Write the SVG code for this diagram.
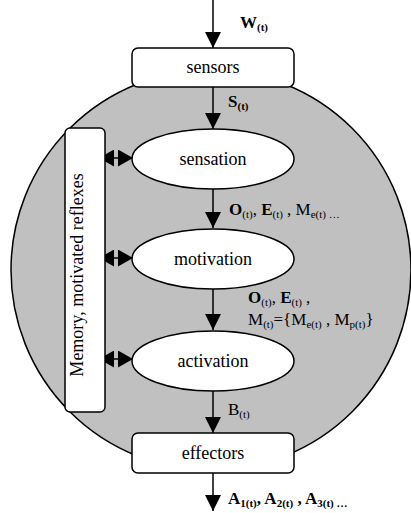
<svg xmlns="http://www.w3.org/2000/svg" width="411" height="513" viewBox="0 0 411 513">
<defs>
<style>
.ln{stroke:#000;stroke-width:1.5;fill:none}
.box{fill:#fff;stroke:#000;stroke-width:1.5}
.t{font-family:'Liberation Serif','Times New Roman',serif;font-size:18px;fill:#000;text-anchor:middle}
.lbl{font-family:'Liberation Serif','Times New Roman',serif;font-size:17px;fill:#000}
.sub{font-size:11px}
.b{font-weight:bold}
</style>
<marker id="ah" markerUnits="userSpaceOnUse" markerWidth="16" markerHeight="16" viewBox="0 0 16 16" refX="16" refY="8" orient="auto-start-reverse">
<path d="M0,0 L16,8 L0,16 z" fill="#000"/>
</marker>
<marker id="ah2" markerUnits="userSpaceOnUse" markerWidth="15" markerHeight="17" viewBox="0 0 15 17" refX="15" refY="8.5" orient="auto-start-reverse">
<path d="M0,0 L15,8.5 L0,17 z" fill="#000"/>
</marker>
</defs>
<circle id="body" cx="211" cy="270" r="200" fill="#c0c0c0" stroke="#000" stroke-width="1.5"/>
<g id="connectors">
<line class="ln" x1="213" y1="0" x2="213" y2="48" marker-end="url(#ah)"/>
<line class="ln" x1="213" y1="87" x2="213" y2="129" marker-end="url(#ah)"/>
<line class="ln" x1="213" y1="188" x2="213" y2="228" marker-end="url(#ah)"/>
<line class="ln" x1="213" y1="288" x2="213" y2="330" marker-end="url(#ah)"/>
<line class="ln" x1="213" y1="390" x2="213" y2="433" marker-end="url(#ah)"/>
<line class="ln" x1="213" y1="473" x2="213" y2="511" marker-end="url(#ah)"/>
<line class="ln" x1="99" y1="158" x2="133" y2="158" marker-start="url(#ah2)" marker-end="url(#ah2)"/>
<line class="ln" x1="99" y1="258" x2="133" y2="258" marker-start="url(#ah2)" marker-end="url(#ah2)"/>
<line class="ln" x1="99" y1="359" x2="133" y2="359" marker-start="url(#ah2)" marker-end="url(#ah2)"/>
</g>
<g id="memory">
<rect class="box" x="65" y="128" width="40" height="284" rx="5"/>
<text class="t" transform="translate(83,275) rotate(-90)">Memory, motivated reflexes</text>
</g>
<g id="sensors">
<rect class="box" x="132" y="48" width="162" height="39" rx="6"/>
<text class="t" x="213" y="73">sensors</text>
</g>
<g id="sensation">
<ellipse class="box" cx="213" cy="159" rx="81" ry="30"/>
<text class="t" x="213" y="165">sensation</text>
</g>
<g id="motivation">
<ellipse class="box" cx="213" cy="259" rx="81" ry="30"/>
<text class="t" x="213" y="265">motivation</text>
</g>
<g id="activation">
<ellipse class="box" cx="213" cy="361" rx="81" ry="30"/>
<text class="t" x="213" y="367">activation</text>
</g>
<g id="effectors">
<rect class="box" x="132" y="433" width="162" height="40" rx="6"/>
<text class="t" x="213" y="459">effectors</text>
</g>
<g id="labels">
<text class="lbl b" x="240" y="28">W<tspan class="sub" dy="3">(t)</tspan></text>
<text class="lbl b" x="228" y="107">S<tspan class="sub" dy="3">(t)</tspan></text>
<text class="lbl" x="229" y="215"><tspan class="b">O</tspan><tspan class="sub" dy="3">(t)</tspan><tspan dy="-3">, </tspan><tspan class="b">E</tspan><tspan class="sub" dy="3">(t)</tspan><tspan dy="-3"> , M</tspan><tspan class="sub" dy="3">e(t) …</tspan></text>
<text class="lbl" x="248" y="303"><tspan class="b">O</tspan><tspan class="sub" dy="3">(t)</tspan><tspan dy="-3">, </tspan><tspan class="b">E</tspan><tspan class="sub" dy="3">(t)</tspan><tspan dy="-3"> ,</tspan></text>
<text class="lbl" x="248" y="325">M<tspan class="sub" dy="3">(t)</tspan><tspan dy="-3">={M</tspan><tspan class="sub" dy="3">e(t)</tspan><tspan dy="-3"> , M</tspan><tspan class="sub" dy="3">p(t)</tspan><tspan dy="-3">}</tspan></text>
<text class="lbl" x="228" y="415">B<tspan class="sub" dy="3">(t)</tspan></text>
<text class="lbl b" x="228" y="504">A<tspan class="sub" dy="3">1(t)</tspan><tspan dy="-3">, A</tspan><tspan class="sub" dy="3">2(t)</tspan><tspan dy="-3"> , A</tspan><tspan class="sub" dy="3">3(t) …</tspan></text>
</g>
</svg>
